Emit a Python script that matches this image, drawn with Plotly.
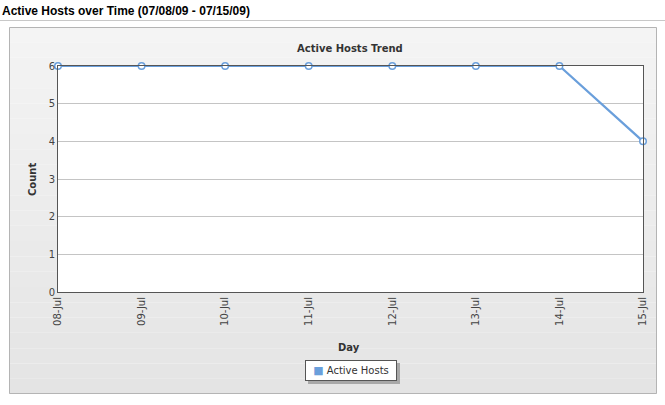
import plotly.graph_objects as go

days = ["08-Jul", "09-Jul", "10-Jul", "11-Jul", "12-Jul", "13-Jul", "14-Jul", "15-Jul"]
active_hosts = [6, 6, 6, 6, 6, 6, 6, 4]
y_ticks = [0, 1, 2, 3, 4, 5, 6]
series_name = "Active Hosts"

W, H = 665, 405
L, R, T, B = 58, 22, 66, 113
pw, ph = W - L - R, H - T - B

def px(x):
    return (x - L) / pw

def py(y):
    return (H - B - y) / ph

LINE = "#6a9fdb"
FONT = "DejaVu Sans"

fig = go.Figure()
fig.add_trace(go.Scatter(
    x=days, y=active_hosts, mode="lines+markers", name=series_name,
    line=dict(color=LINE, width=2.2),
    marker=dict(size=6.5, color="white", line=dict(color=LINE, width=1.5)),
    showlegend=False, cliponaxis=False,
))

shapes = []
# title underline
shapes.append(dict(type="line", xref="paper", yref="paper", x0=px(0), x1=px(W), y0=py(20.5), y1=py(20.5),
                   line=dict(color="#c8c8c8", width=1), layer="below"))
# panel gradient
top, bot = 27, 394
n = 24
c0, c1 = 0xf4, 0xe4
for i in range(n):
    ya = top + (bot - top) * i / n
    yb = top + (bot - top) * (i + 1) / n
    c = round(c0 + (c1 - c0) * (i + 0.5) / n)
    col = f"rgb({c},{c},{c})"
    shapes.append(dict(type="rect", xref="paper", yref="paper", x0=px(9), x1=px(657), y0=py(yb), y1=py(ya),
                       fillcolor=col, line=dict(width=0), layer="below"))
shapes.append(dict(type="rect", xref="paper", yref="paper", x0=px(9.5), x1=px(656.5), y0=py(393.5), y1=py(27.5),
                   fillcolor="rgba(0,0,0,0)", line=dict(color="#b4b4b4", width=1), layer="below"))
# plot area white
shapes.append(dict(type="rect", xref="paper", yref="paper", x0=0, x1=1, y0=0, y1=1,
                   fillcolor="white", line=dict(width=0), layer="below"))
# legend shadow
shapes.append(dict(type="rect", xref="paper", yref="paper", x0=px(308), x1=px(400), y0=py(384), y1=py(363),
                   fillcolor="#a8a8a8", line=dict(width=0), layer="below"))

annotations = [
    dict(text="<b>Active Hosts over Time (07/08/09 - 07/15/09)</b>", xref="paper", yref="paper",
         x=px(0), y=py(11), xanchor="left", yanchor="middle", showarrow=False,
         font=dict(family="Liberation Sans", size=12, color="black")),
    dict(text="<b>Active Hosts Trend</b>", xref="paper", yref="paper",
         x=px(350), y=py(48), xanchor="center", yanchor="middle", showarrow=False,
         font=dict(family=FONT, size=10, color="#333333")),
    dict(text="<b>Count</b>", xref="paper", yref="paper", textangle=-90,
         x=px(32), y=py(180), xanchor="center", yanchor="middle", showarrow=False,
         font=dict(family=FONT, size=10, color="#333333")),
    dict(text="<b>Day</b>", xref="paper", yref="paper",
         x=px(349), y=py(347), xanchor="center", yanchor="middle", showarrow=False,
         font=dict(family=FONT, size=10, color="#333333")),
    # legend
    dict(text=f"<span style='color:{LINE};font-size:11px'>■</span> {series_name}", xref="paper", yref="paper",
         x=px(351), y=py(370.5), xanchor="center", yanchor="middle", showarrow=False,
         bgcolor="white", bordercolor="#555555", borderwidth=1, borderpad=3, width=84,
         font=dict(family=FONT, size=10, color="#333333")),
]

fig.update_layout(
    width=W, height=H,
    margin=dict(l=L, r=R, t=T, b=B),
    paper_bgcolor="white", plot_bgcolor="white",
    font=dict(family=FONT, size=10, color="#444444"),
    shapes=shapes, annotations=annotations,
    showlegend=False,
    xaxis=dict(type="category", range=[0, len(days) - 1], tickangle=-90,
               showgrid=False, showline=True, linecolor="#555555", linewidth=1, mirror=True,
               ticks="", tickfont=dict(family=FONT, size=10, color="#444444"), zeroline=False),
    yaxis=dict(range=[0, 6], tickvals=y_ticks, showgrid=True, gridcolor="#c4c4c4", gridwidth=1,
               showline=True, linecolor="#555555", linewidth=1, mirror=True,
               ticks="", tickfont=dict(family=FONT, size=10, color="#444444"), zeroline=False),
)

fig.write_html("out.html")
